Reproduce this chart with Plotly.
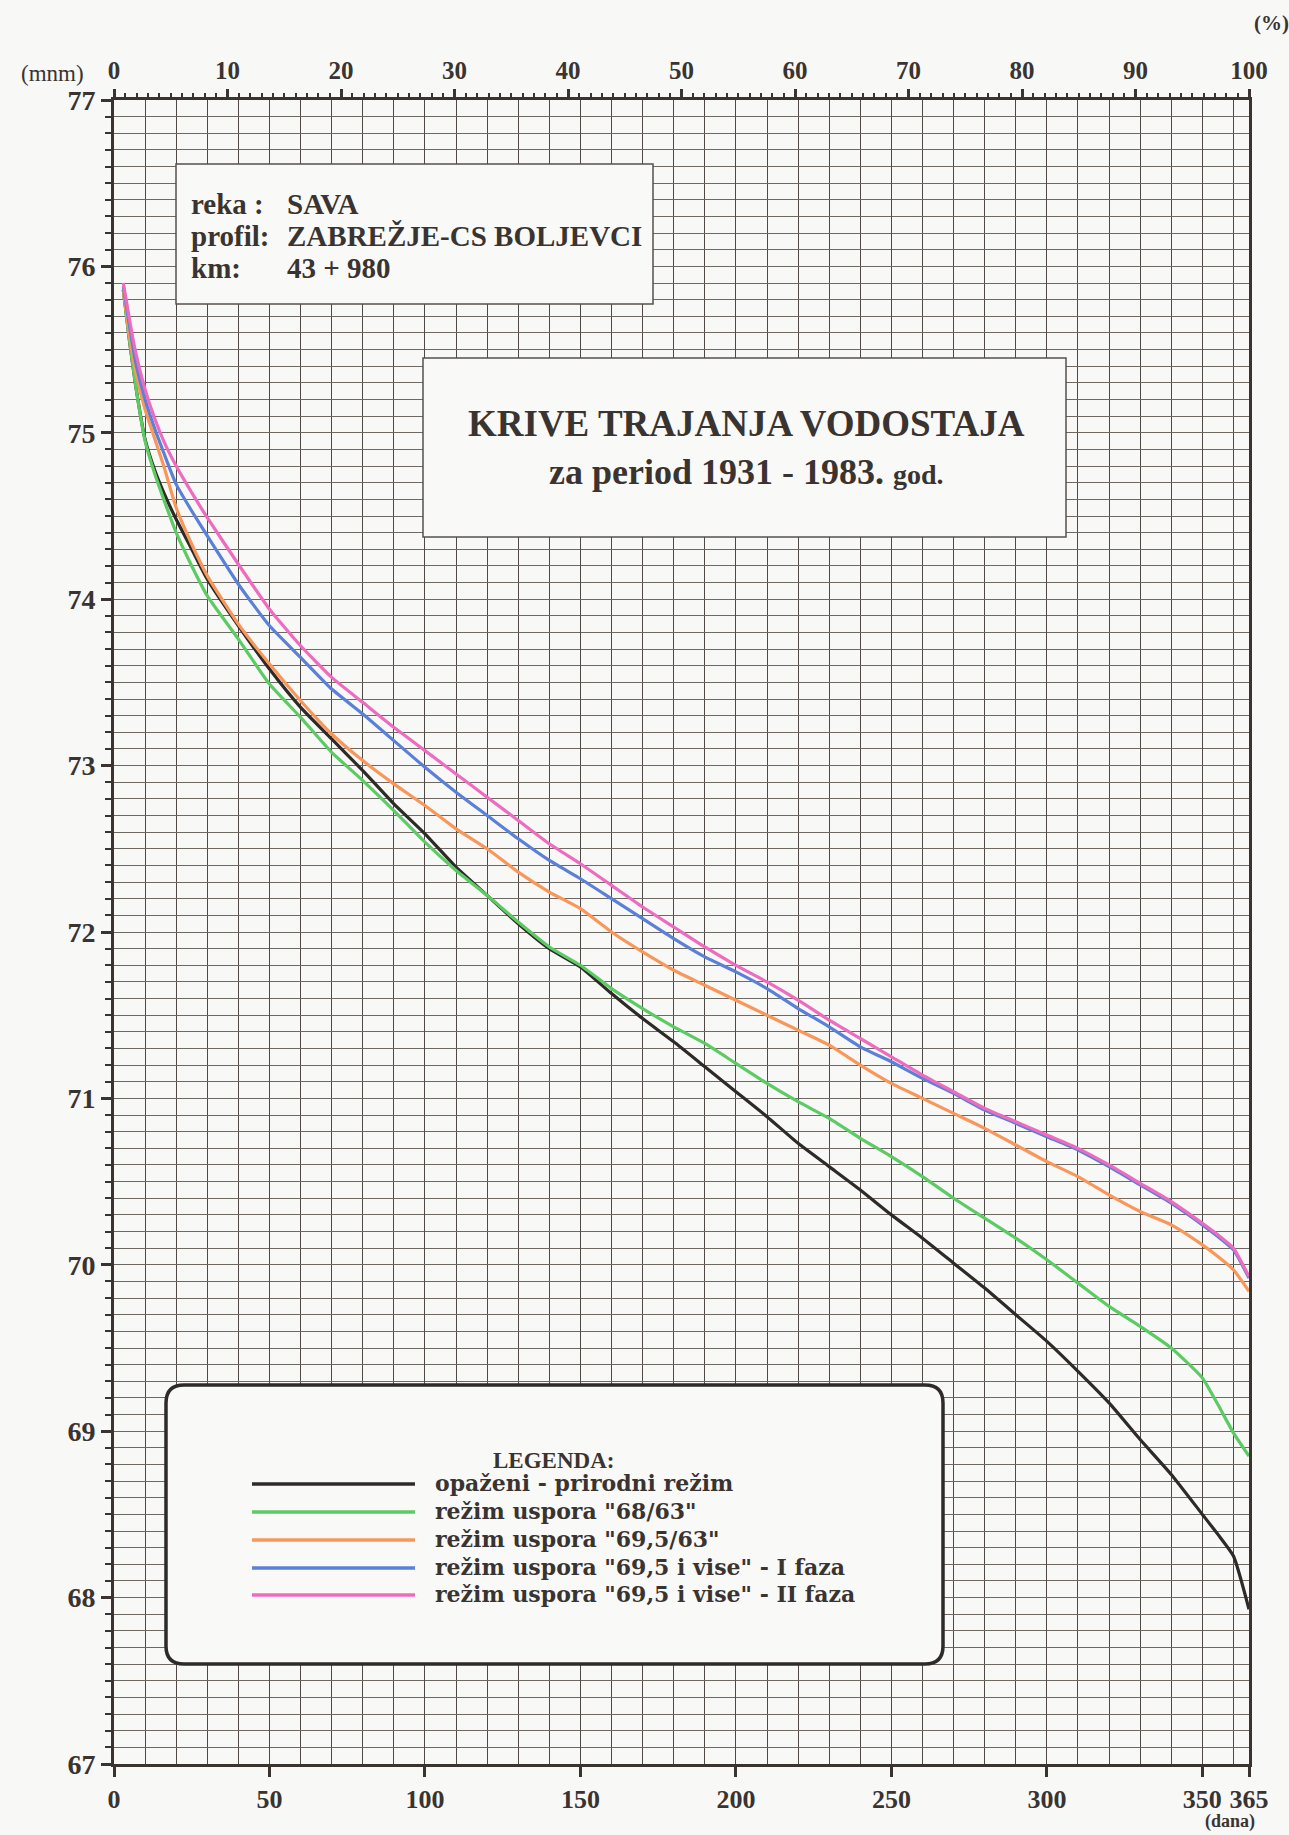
import plotly.graph_objects as go

# Duration curves of water levels, Sava river, profile Zabrežje - CS Boljevci
days = [3, 5, 7, 10, 13, 16, 20, 25, 30, 40, 50, 60, 70, 80, 90, 100, 110, 120, 130, 140,
        150, 160, 170, 180, 190, 200, 210, 220, 230, 240, 250, 260, 270, 280, 290, 300,
        310, 320, 330, 340, 350, 355, 360, 365]

level_natural = [75.86, 75.55, 75.28, 74.96, 74.78, 74.64, 74.48, 74.30, 74.12, 73.84, 73.58,
                 73.35, 73.16, 72.97, 72.77, 72.59, 72.39, 72.22, 72.05, 71.90, 71.79, 71.63,
                 71.48, 71.34, 71.19, 71.04, 70.89, 70.73, 70.59, 70.45, 70.30, 70.16, 70.01,
                 69.86, 69.70, 69.54, 69.36, 69.17, 68.95, 68.74, 68.50, 68.38, 68.25, 67.93]
level_68_63 = [75.86, 75.55, 75.28, 74.95, 74.76, 74.60, 74.40, 74.20, 74.02, 73.76, 73.49,
               73.29, 73.08, 72.91, 72.73, 72.54, 72.37, 72.22, 72.06, 71.91, 71.80, 71.66,
               71.54, 71.43, 71.33, 71.21, 71.09, 70.98, 70.88, 70.76, 70.65, 70.53, 70.40,
               70.28, 70.16, 70.03, 69.89, 69.75, 69.63, 69.50, 69.32, 69.16, 68.99, 68.85]
level_695_63 = [75.86, 75.58, 75.36, 75.14, 74.97, 74.80, 74.55, 74.33, 74.14, 73.85, 73.61,
                73.39, 73.19, 73.03, 72.89, 72.76, 72.62, 72.50, 72.36, 72.24, 72.14, 72.00,
                71.88, 71.77, 71.68, 71.59, 71.50, 71.41, 71.32, 71.20, 71.09, 71.00, 70.91,
                70.82, 70.72, 70.62, 70.53, 70.42, 70.32, 70.24, 70.12, 70.05, 69.97, 69.84]
level_phase1 = [75.88, 75.64, 75.42, 75.20, 75.03, 74.88, 74.69, 74.53, 74.38, 74.09, 73.84,
                73.65, 73.46, 73.31, 73.15, 72.99, 72.84, 72.70, 72.56, 72.43, 72.32, 72.20,
                72.08, 71.96, 71.85, 71.76, 71.66, 71.54, 71.43, 71.31, 71.22, 71.12, 71.03,
                70.93, 70.85, 70.77, 70.69, 70.59, 70.48, 70.37, 70.24, 70.17, 70.09, 69.92]
level_phase2 = [75.90, 75.68, 75.48, 75.26, 75.09, 74.95, 74.80, 74.64, 74.49, 74.21, 73.94,
                73.72, 73.53, 73.38, 73.23, 73.09, 72.95, 72.81, 72.67, 72.53, 72.41, 72.28,
                72.15, 72.03, 71.91, 71.80, 71.70, 71.59, 71.47, 71.36, 71.25, 71.14, 71.04,
                70.94, 70.86, 70.78, 70.70, 70.60, 70.49, 70.38, 70.25, 70.18, 70.10, 69.93]

series_names = ['opaženi - prirodni režim', 'režim uspora "68/63"', 'režim uspora "69,5/63"',
                'režim uspora "69,5 i vise" - I faza', 'režim uspora "69,5 i vise" - II faza']
series_values = [level_natural, level_68_63, level_695_63, level_phase1, level_phase2]
series_colors = ['#2e2a27', '#5ccb63', '#f9975a', '#5b80d8', '#ee6cbf']

day_ticks = [0, 50, 100, 150, 200, 250, 300, 350, 365]
percent_ticks = [0, 10, 20, 30, 40, 50, 60, 70, 80, 90, 100]
level_ticks = [67, 68, 69, 70, 71, 72, 73, 74, 75, 76, 77]

W, H = 1289, 1835
L, R, T, B = 114, 1249, 100, 1764
INK = '#3a3431'
SERIF = 'Liberation Serif'


def px(x):
    return (x - L) / (R - L)


def py(y):
    return 1 - (y - T) / (B - T)


def bold(size, family=SERIF):
    return dict(size=size, family=family, color=INK, weight=700)


fig = go.Figure()
for name, vals, col in zip(series_names, series_values, series_colors):
    fig.add_trace(go.Scatter(x=days, y=vals, name=name, mode='lines',
                             line=dict(color=col, width=3.2, shape='spline', smoothing=0.5),
                             showlegend=False))
# carrier for the percentage axis on top
fig.add_trace(go.Scatter(x=[], y=[], xaxis='x2', yaxis='y', showlegend=False, hoverinfo='skip'))

grid_v = '#4f4945'
grid_h = '#6e6863'

fig.update_layout(
    width=W, height=H,
    margin=dict(l=L, r=W - R, t=T, b=H - B, autoexpand=False),
    paper_bgcolor='#f8f8f7', plot_bgcolor='#f8f8f7',
    font=dict(family=SERIF, color=INK),
    xaxis=dict(range=[0, 365], tickmode='array', tickvals=day_ticks,
               ticktext=[str(v) for v in day_ticks],
               tickfont=bold(26), tickangle=0, automargin=False,
               ticks='outside', ticklen=10, tickwidth=2.5, tickcolor=INK,
               showgrid=True, gridcolor=grid_v, gridwidth=1.3,
               minor=dict(tickmode='linear', tick0=0, dtick=10, showgrid=True,
                          gridcolor=grid_v, gridwidth=1.3, ticks=''),
               showline=True, linecolor=INK, linewidth=3, mirror=True,
               zeroline=False, fixedrange=True),
    xaxis2=dict(range=[0, 100], overlaying='x', side='top', anchor='y',
                tickmode='array', tickvals=percent_ticks,
                ticktext=[str(v) for v in percent_ticks],
                tickfont=bold(25), tickangle=0, automargin=False,
                ticks='outside', ticklen=10, tickwidth=2.5, tickcolor=INK,
                minor=dict(tickmode='linear', tick0=0, dtick=1, ticks='outside',
                           ticklen=6, tickwidth=2, tickcolor=INK, showgrid=False),
                showgrid=False, showline=False, zeroline=False),
    yaxis=dict(range=[67, 77], tickmode='array', tickvals=level_ticks,
               ticktext=[str(v) for v in level_ticks],
               tickfont=bold(28), automargin=False,
               ticks='outside', ticklen=10, tickwidth=2.5, tickcolor=INK,
               showgrid=True, gridcolor=grid_h, gridwidth=1,
               minor=dict(tickmode='linear', tick0=67, dtick=0.1, showgrid=True,
                          gridcolor=grid_h, gridwidth=1, ticks='outside',
                          ticklen=6, tickwidth=2, tickcolor=INK),
               showline=True, linecolor=INK, linewidth=3, mirror=True,
               zeroline=False, fixedrange=True),
)

shapes = []
# station info box
shapes.append(dict(type='rect', xref='paper', yref='paper',
                   x0=px(176), x1=px(653), y0=py(304), y1=py(164),
                   line=dict(color='#55504c', width=1.5), fillcolor='#f9f9f8', layer='above'))
# title box
shapes.append(dict(type='rect', xref='paper', yref='paper',
                   x0=px(423), x1=px(1066), y0=py(537), y1=py(358),
                   line=dict(color='#55504c', width=1.5), fillcolor='#f9f9f8', layer='above'))
# legend box with rounded corners
lx0, lx1, ly0, ly1, rr = 166, 943, 1385, 1664, 18


def P(x, y):
    return '%.5f,%.5f' % (px(x), py(y))


path = ('M ' + P(lx0 + rr, ly0) + ' L ' + P(lx1 - rr, ly0) + ' Q ' + P(lx1, ly0) + ' ' + P(lx1, ly0 + rr) +
        ' L ' + P(lx1, ly1 - rr) + ' Q ' + P(lx1, ly1) + ' ' + P(lx1 - rr, ly1) +
        ' L ' + P(lx0 + rr, ly1) + ' Q ' + P(lx0, ly1) + ' ' + P(lx0, ly1 - rr) +
        ' L ' + P(lx0, ly0 + rr) + ' Q ' + P(lx0, ly0) + ' ' + P(lx0 + rr, ly0) + ' Z')
shapes.append(dict(type='path', xref='paper', yref='paper', path=path,
                   line=dict(color='#2e2a27', width=3.5), fillcolor='#f9f9f8', layer='above'))

legend_rows = [1484, 1512, 1540, 1568, 1595]
for yy, col in zip(legend_rows, series_colors):
    shapes.append(dict(type='line', xref='paper', yref='paper',
                       x0=px(252), x1=px(415), y0=py(yy), y1=py(yy),
                       line=dict(color=col, width=3.5), layer='above'))
fig.update_layout(shapes=shapes)

ann = []


def text(x, y, s, size, xanchor='left', family=SERIF, yanchor='middle'):
    ann.append(dict(x=px(x), y=py(y), xref='paper', yref='paper', text=s, showarrow=False,
                    xanchor=xanchor, yanchor=yanchor, font=bold(size, family)))


text(189, 204, 'reka :', 29)
text(285, 204, 'SAVA', 29)
text(189, 236, 'profil:', 29)
text(285, 236, 'ZABREŽJE-CS BOLJEVCI', 29)
text(189, 268, 'km:', 29)
text(285, 268, '43 + 980', 29)

text(746, 424, 'KRIVE TRAJANJA VODOSTAJA', 37, 'center')
text(746, 472, "za period 1931 - 1983. <span style='font-size:28px'>god.</span>", 36, 'center')

text(553, 1460, 'LEGENDA:', 23, 'center')
for yy, name in zip(legend_rows, series_names):
    text(433, yy - 1, name, 22, family='DejaVu Serif')

text(52, 73, '(mnm)', 23, 'center')
ann[-1]['font']['weight'] = 400
text(1271, 23, '(%)', 21, 'center')
text(1230, 1834, '(dana)', 18, 'center', yanchor='bottom')
ann[-1]['yshift'] = 0

fig.update_layout(annotations=ann)

fig.write_html('out.html')
